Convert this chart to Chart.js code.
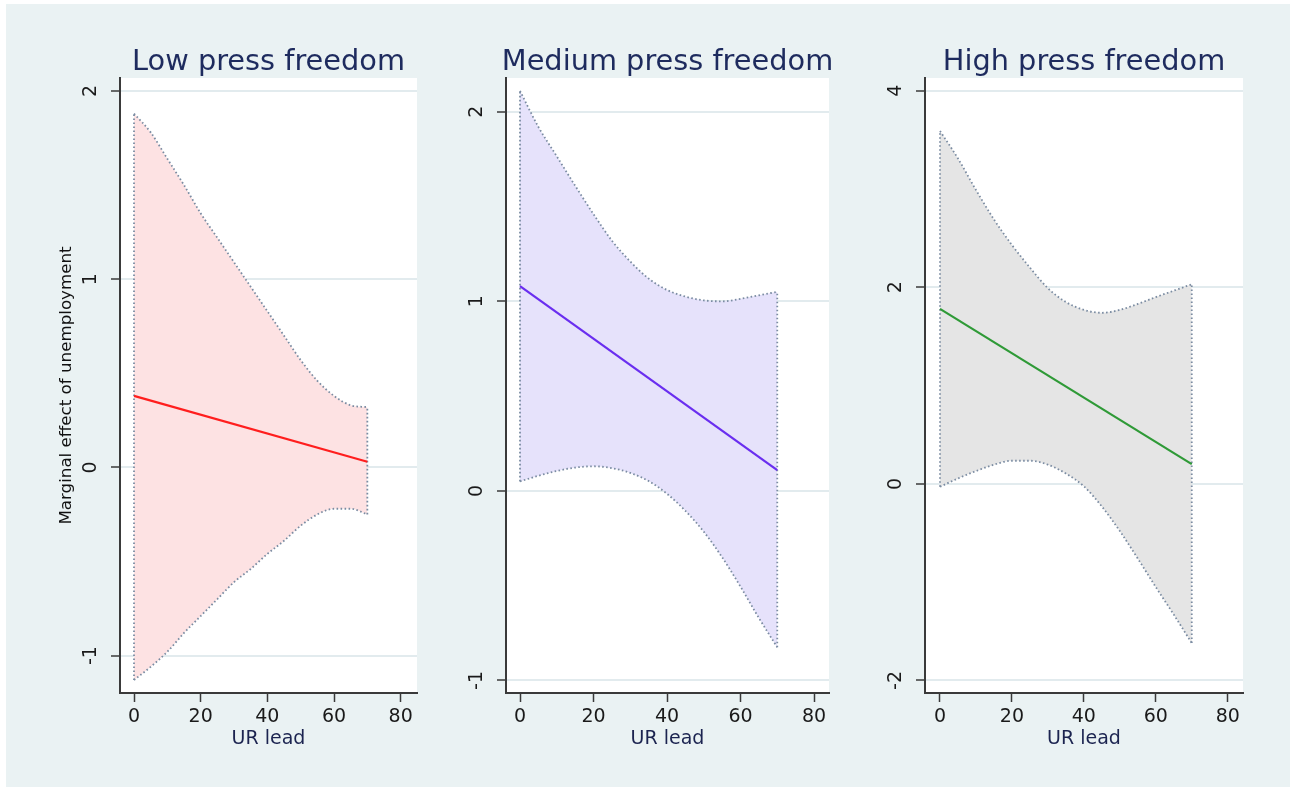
<!DOCTYPE html>
<html>
<head>
<meta charset="utf-8">
<title>Marginal effect of unemployment by press freedom</title>
<script src="https://cdn.jsdelivr.net/npm/chart.js@4.4.1/dist/chart.umd.min.js"></script>
<style>
  html, body { margin: 0; padding: 0; background: #ffffff; }
  #frame { position: absolute; left: 6px; top: 4px; width: 1284px; height: 783px; background: #eaf2f3; }
  canvas { position: absolute; top: 0; }
</style>
</head>
<body>
<div id="frame"></div>
<canvas id="low" width="430" height="787" style="left:0px"></canvas>
<canvas id="medium" width="425" height="787" style="left:430px"></canvas>
<canvas id="high" width="441" height="787" style="left:855px"></canvas>
<script>
// UR lead values at which the confidence bounds are evaluated
const urLead = [0, 5, 10, 15, 20, 25, 30, 35, 40, 45, 50, 55, 60, 65, 70];
// end points of the fitted marginal-effect line
const effectX = [0, 70];
const xTicks = [0, 20, 40, 60, 80];

// Low press freedom
const lowUpper  = [1.88, 1.78, 1.64, 1.50, 1.35, 1.22, 1.09, 0.96, 0.83, 0.70, 0.57, 0.46, 0.38, 0.33, 0.32];
const lowLower  = [-1.13, -1.06, -0.98, -0.88, -0.79, -0.70, -0.61, -0.54, -0.46, -0.39, -0.31, -0.25, -0.22, -0.22, -0.25];
const lowEffect = [0.38, 0.03];
const lowTicks  = [-1, 0, 1, 2];

// Medium press freedom
const medUpper  = [2.11, 1.92, 1.765, 1.61, 1.46, 1.32, 1.21, 1.12, 1.06, 1.025, 1.005, 1.00, 1.013, 1.032, 1.05];
const medLower  = [0.05, 0.08, 0.105, 0.123, 0.13, 0.12, 0.095, 0.052, -0.015, -0.105, -0.215, -0.35, -0.505, -0.67, -0.825];
const medEffect = [1.08, 0.11];
const medTicks  = [-1, 0, 1, 2];

// High press freedom
const highUpper  = [3.59, 3.31, 2.99, 2.69, 2.43, 2.20, 1.99, 1.85, 1.77, 1.74, 1.77, 1.83, 1.90, 1.965, 2.03];
const highLower  = [-0.03, 0.055, 0.13, 0.195, 0.235, 0.235, 0.195, 0.105, -0.025, -0.23, -0.48, -0.76, -1.05, -1.33, -1.62];
const highEffect = [1.78, 0.20];
const highTicks  = [-2, 0, 2, 4];

const FONT = '"DejaVu Sans", "Liberation Sans", sans-serif';
const AXIS = '#3a3a3a';
const CI_LINE = '#7b8ca2';

const pts = (xs, ys) => xs.map((x, i) => ({ x: x, y: ys[i] }));

// white plot region
const plotBackground = {
  id: 'plotBackground',
  beforeDraw(chart) {
    const { ctx, chartArea: a } = chart;
    ctx.save();
    ctx.fillStyle = '#ffffff';
    ctx.fillRect(a.left, a.top, a.right - a.left, a.bottom - a.top);
    ctx.restore();
  }
};

// panel heading centred over the plot region
const panelTitle = {
  id: 'panelTitle',
  afterDraw(chart, args, opts) {
    const { ctx, chartArea: a } = chart;
    ctx.save();
    ctx.font = '28.8px ' + FONT;
    ctx.fillStyle = '#1e2b5e';
    ctx.textAlign = 'center';
    ctx.textBaseline = 'alphabetic';
    ctx.fillText(opts.text, (a.left + a.right) / 2, 70);
    ctx.restore();
  }
};

function makePanel(id, cfg) {
  const n = urLead.length;
  const ciStyle = {
    borderColor: CI_LINE,
    borderWidth: 1.8,
    borderDash: [1.6, 2.4],
    pointRadius: 0,
    cubicInterpolationMode: 'monotone'
  };
  const yScale = {
    type: 'linear',
    min: cfg.yMin,
    max: cfg.yMax,
    afterBuildTicks: s => { s.ticks = cfg.yTicks.map(v => ({ value: v })); },
    afterFit: s => { s.width = cfg.yWidth; },
    ticks: {
      font: { family: FONT, size: 19 },
      color: '#1a1a1a',
      minRotation: 90,
      maxRotation: 90,
      crossAlign: 'center',
      padding: 10,
      autoSkip: false,
      callback: v => String(v)
    },
    grid: {
      color: '#e2ebee',
      lineWidth: 2,
      tickLength: 9,
      tickColor: AXIS,
      tickWidth: 1.5
    },
    border: { color: AXIS, width: 2 },
    title: cfg.yTitle ? {
      display: true,
      text: cfg.yTitle,
      font: { family: FONT, size: 16.7 },
      color: '#111111',
      padding: { top: 57, bottom: 0 }
    } : { display: false }
  };

  return new Chart(document.getElementById(id), {
    type: 'line',
    data: {
      datasets: [
        Object.assign({ data: pts(urLead, cfg.upper), fill: '+1', backgroundColor: cfg.band, order: 3 }, ciStyle),
        Object.assign({ data: pts(urLead, cfg.lower), fill: false, order: 2 }, ciStyle),
        Object.assign({}, ciStyle, { cubicInterpolationMode: 'default', tension: 0, fill: false, order: 1,
          data: [{ x: urLead[0], y: cfg.lower[0] }, { x: urLead[0], y: cfg.upper[0] }] }),
        Object.assign({}, ciStyle, { cubicInterpolationMode: 'default', tension: 0, fill: false, order: 1,
          data: [{ x: urLead[n - 1], y: cfg.lower[n - 1] }, { x: urLead[n - 1], y: cfg.upper[n - 1] }] }),
        { data: pts(effectX, cfg.effect), borderColor: cfg.line, borderWidth: 2.2, pointRadius: 0, tension: 0, fill: false, order: 0 }
      ]
    },
    options: {
      responsive: false,
      animation: false,
      devicePixelRatio: 1,
      layout: { padding: { top: 78, right: cfg.padRight, bottom: 0, left: 0 } },
      plugins: {
        legend: { display: false },
        tooltip: { enabled: false },
        title: { display: false },
        filler: { drawTime: 'beforeDatasetsDraw' },
        panelTitle: { text: cfg.title }
      },
      scales: {
        x: {
          type: 'linear',
          min: cfg.xMin,
          max: cfg.xMax,
          afterBuildTicks: s => { s.ticks = xTicks.map(v => ({ value: v })); },
          afterFit: s => { s.height = 94; },
          ticks: {
            font: { family: FONT, size: 19 },
            color: '#1a1a1a',
            maxRotation: 0,
            autoSkip: false,
            padding: 4,
            callback: v => String(v)
          },
          grid: { drawOnChartArea: false, tickLength: 9, tickColor: AXIS, tickWidth: 1.5 },
          border: { color: AXIS, width: 2 },
          title: {
            display: true,
            text: 'UR lead',
            font: { family: FONT, size: 19 },
            color: '#1c2450',
            padding: { top: 0, bottom: 37 }
          }
        },
        y: yScale
      }
    },
    plugins: [plotBackground, panelTitle]
  });
}

makePanel('low', {
  title: 'Low press freedom',
  upper: lowUpper, lower: lowLower, effect: lowEffect, yTicks: lowTicks,
  yMin: -1.199, yMax: 2.069, xMin: -4.2, xMax: 84.9,
  yWidth: 120, padRight: 13,
  yTitle: 'Marginal effect of unemployment',
  band: '#fde2e3', line: '#ff1e1e'
});

makePanel('medium', {
  title: 'Medium press freedom',
  upper: medUpper, lower: medLower, effect: medEffect, yTicks: medTicks,
  yMin: -1.066, yMax: 2.178, xMin: -3.81, xMax: 84.08,
  yWidth: 76, padRight: 26,
  band: '#e6e2fb', line: '#6a2ef0'
});

makePanel('high', {
  title: 'High press freedom',
  upper: highUpper, lower: highLower, effect: highEffect, yTicks: highTicks,
  yMin: -2.128, yMax: 4.129, xMin: -4.17, xMax: 84.25,
  yWidth: 70, padRight: 53,
  band: '#e5e5e5', line: '#2f9a37'
});
</script>
</body>
</html>
